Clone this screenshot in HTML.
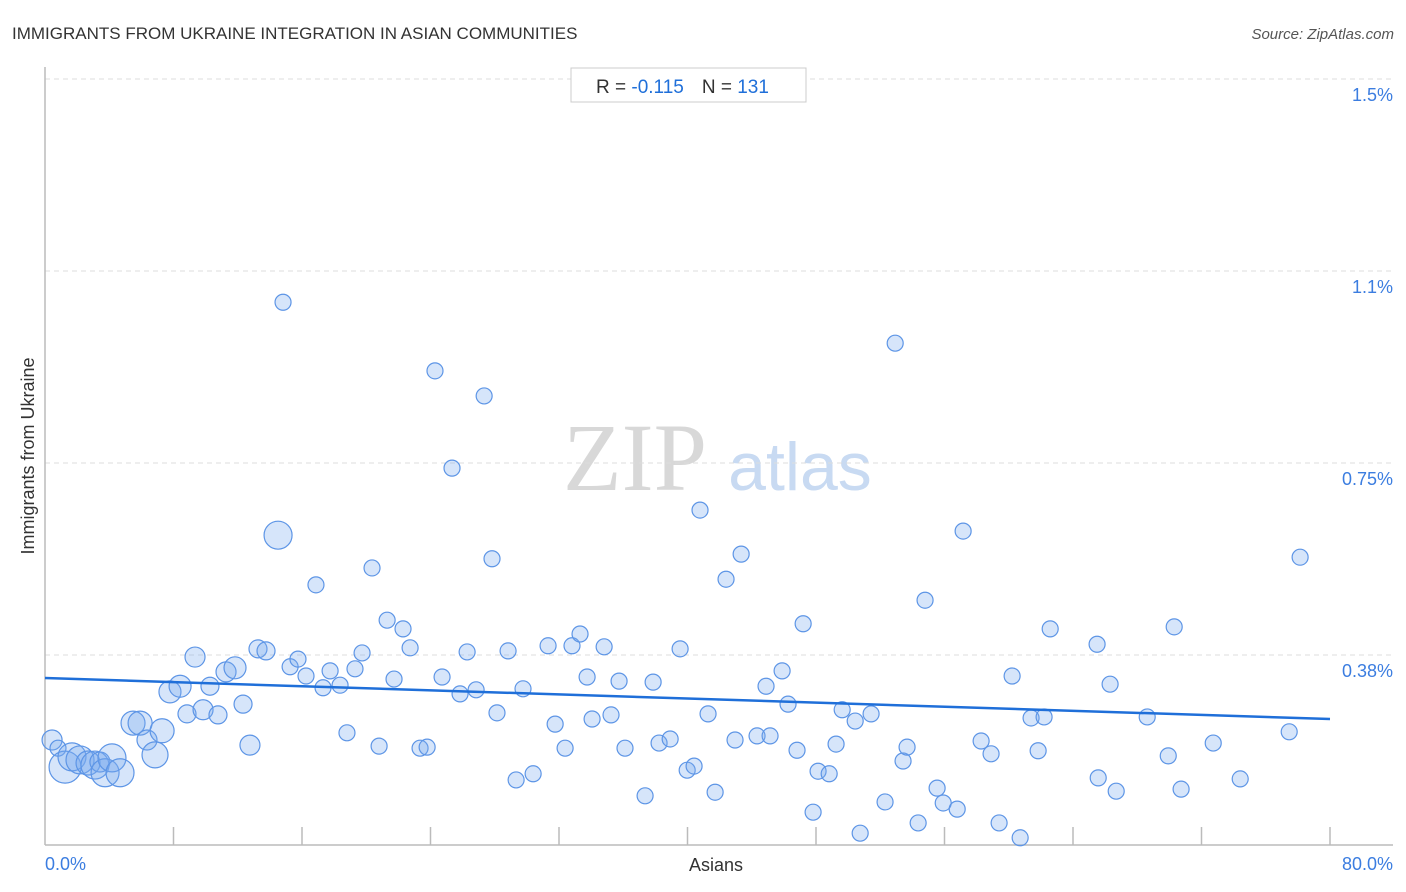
<!DOCTYPE html>
<html><head><meta charset="utf-8"><style>
body{margin:0;background:#fff;font-family:"Liberation Sans",sans-serif}
svg{display:block}
</style></head><body>
<svg width="1406" height="892" xmlns="http://www.w3.org/2000/svg">
<text x="12" y="39" font-size="17" fill="#333">IMMIGRANTS FROM UKRAINE INTEGRATION IN ASIAN COMMUNITIES</text>
<text x="1394" y="39" font-size="15" fill="#555" font-style="italic" text-anchor="end">Source: ZipAtlas.com</text>
<g>
<text x="635" y="490" font-size="96" font-family="Liberation Serif,serif" fill="#d8d8d8" text-anchor="middle">ZIP</text>
<text x="800" y="490" font-size="68" fill="#c8daf2" text-anchor="middle">atlas</text>
</g>
<g id="grid"></g>
<g id="axes"></g>
<g id="points"></g>
<g id="trend"></g>
<g>
<rect x="571" y="68" width="235" height="34" fill="#fff" stroke="#ccc"/>
<text x="596" y="93" font-size="19" fill="#333">R = <tspan fill="#1f6fd9">-0.115</tspan><tspan dx="18" fill="#333">N = </tspan><tspan fill="#1f6fd9">131</tspan></text>
</g>
<text x="716" y="871" font-size="18" fill="#333" text-anchor="middle">Asians</text>
<text transform="translate(34,456) rotate(-90)" font-size="18" fill="#333" text-anchor="middle">Immigrants from Ukraine</text>
</svg>
<script>
const xs=[0.44,0.81,1.25,1.68,2.18,2.68,3.11,3.42,3.74,4.17,4.67,5.48,5.92,6.35,6.85,7.29,7.78,8.41,8.84,9.34,9.84,10.27,10.77,11.27,11.83,12.33,12.76,13.26,13.76,14.51,14.82,15.26,15.75,16.25,16.87,17.31,17.75,18.37,18.80,19.30,19.74,20.36,20.80,21.30,21.73,22.29,22.73,23.35,23.79,24.28,24.72,25.34,25.84,26.28,26.84,27.34,27.83,28.14,28.83,29.33,29.76,30.39,31.32,31.76,32.38,32.81,33.31,33.75,34.06,34.81,35.24,35.74,36.11,37.36,37.86,38.23,38.92,39.54,39.98,40.41,40.78,41.28,41.72,42.40,42.96,43.34,44.33,44.89,45.14,45.89,46.26,46.82,47.20,47.82,48.13,48.82,49.25,49.63,50.44,50.75,51.43,52.30,52.93,53.42,53.67,54.36,54.79,55.54,55.92,56.79,57.16,58.28,58.90,59.40,60.21,60.71,61.39,61.83,62.20,62.58,65.50,65.57,66.31,66.69,68.62,69.93,70.30,70.73,72.73,74.41,77.46,78.14];
const ys=[0.209,0.193,0.156,0.176,0.170,0.164,0.160,0.166,0.145,0.174,0.145,0.242,0.242,0.209,0.180,0.227,0.303,0.314,0.260,0.371,0.268,0.314,0.258,0.342,0.350,0.279,0.199,0.387,0.383,0.609,1.064,0.352,0.367,0.334,0.512,0.311,0.344,0.316,0.223,0.348,0.379,0.545,0.197,0.443,0.328,0.426,0.389,0.193,0.195,0.930,0.332,0.740,0.299,0.381,0.307,0.881,0.563,0.262,0.383,0.131,0.309,0.143,0.393,0.240,0.193,0.393,0.416,0.332,0.250,0.391,0.258,0.324,0.193,0.100,0.322,0.203,0.211,0.387,0.150,0.158,0.658,0.260,0.107,0.523,0.209,0.572,0.217,0.314,0.217,0.344,0.279,0.189,0.436,0.068,0.148,0.143,0.201,0.268,0.246,0.027,0.260,0.088,0.984,0.168,0.195,0.047,0.482,0.115,0.086,0.074,0.617,0.207,0.182,0.047,0.334,0.018,0.252,0.188,0.254,0.426,0.396,0.135,0.318,0.109,0.254,0.178,0.430,0.113,0.203,0.133,0.225,0.566];
const weights=[10,8,16,14,14,12,14,10,14,14,14,12,12,10,13,12,11,11,9,10,10,9,9,10,11,9,10,9,9,14];
const yTicks=[0.375,0.75,1.125,1.5];
const yTickLabels=["0.38%","0.75%","1.1%","1.5%"];
const trendY=[0.330,0.250];
const xMin=0,xMax=80;
const X=v=>45+(v-xMin)/(xMax-xMin)*1285;
const Y=v=>847-v*512;
const NS="http://www.w3.org/2000/svg";
function mk(tag,attrs,parent){const e=document.createElementNS(NS,tag);for(const k in attrs)e.setAttribute(k,attrs[k]);parent.appendChild(e);return e;}
const grid=document.getElementById('grid'),axes=document.getElementById('axes'),pts=document.getElementById('points'),tr=document.getElementById('trend');
yTicks.forEach((t,i)=>{
 const l=mk('line',{x1:45,x2:1393,y1:Y(t),y2:Y(t),stroke:'#ddd','stroke-dasharray':'5,4'},grid);
 
 
 const tx=mk('text',{x:1393,y:Y(t)+22,'font-size':18,fill:'#3b7de0','text-anchor':'end'},axes);
 tx.textContent=yTickLabels[i];
 
 
});
mk('line',{x1:45,x2:45,y1:67,y2:845,stroke:'#bbb','stroke-width':1.5},axes);
mk('line',{x1:45,x2:1393,y1:845,y2:845,stroke:'#bbb','stroke-width':1.5},axes);
for(let v=8;v<=80;v+=8){
 const t=mk('line',{x1:X(v),x2:X(v),y1:827,y2:845,stroke:'#bbb','stroke-width':1.5},axes);
 
 
}
const xl0=mk('text',{x:45,y:870,'font-size':18,fill:'#3b7de0'},axes);xl0.textContent='0.0%';


const xl1=mk('text',{x:1393,y:870,'font-size':18,fill:'#3b7de0','text-anchor':'end'},axes);xl1.textContent='80.0%';


xs.forEach((x,i)=>{
 const c=mk('circle',{cx:X(x),cy:Y(ys[i]),r:weights[i]||8,fill:'rgba(120,170,240,0.3)',stroke:'#5d95e6','stroke-width':1.2},pts);
 
 
});
const tl=mk('line',{x1:X(xMin),y1:Y(trendY[0]),x2:X(xMax),y2:Y(trendY[1]),stroke:'#1f6fd9','stroke-width':2.5},tr);


</script>
</body></html>
